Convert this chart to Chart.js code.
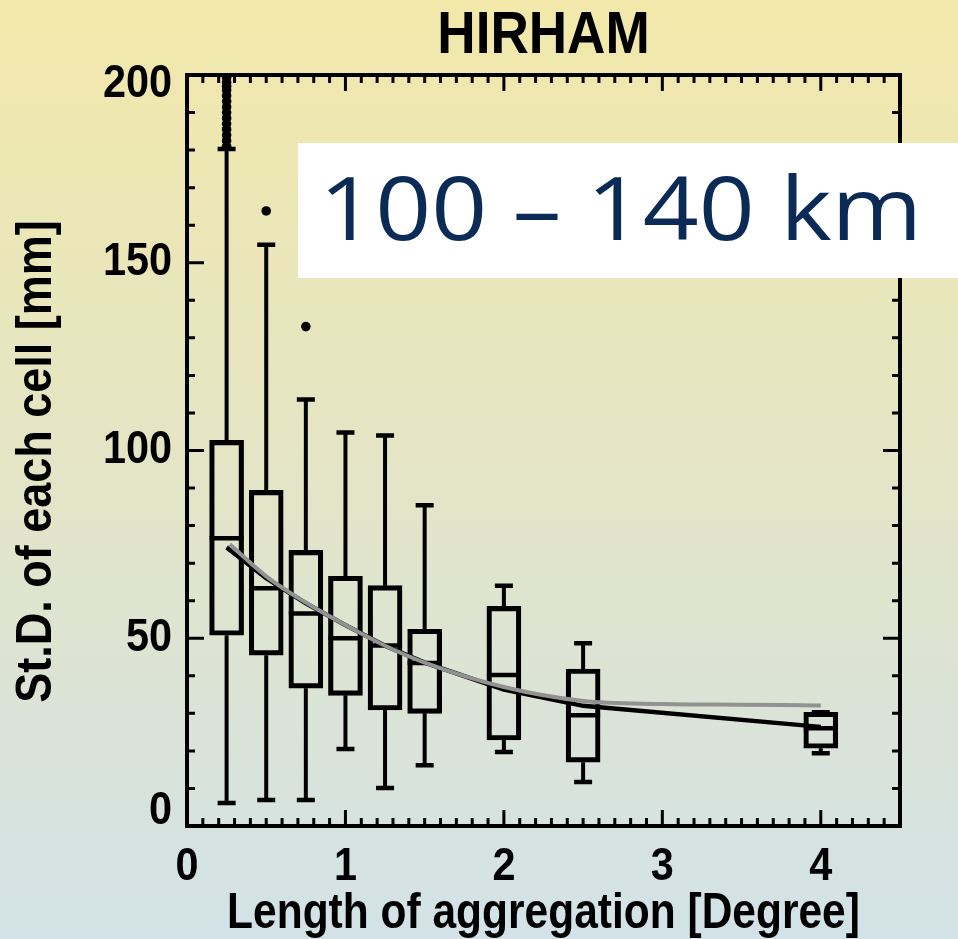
<!DOCTYPE html>
<html><head><meta charset="utf-8">
<script src="https://cdn.jsdelivr.net/npm/chart.js@4.4.0/dist/chart.umd.min.js"></script>
<style>html,body{margin:0;padding:0;background:#fff}canvas{display:block}</style>
</head><body>
<canvas id="c" width="958" height="939"></canvas>
<script>
// ---- data ----
const positions   = [0.25, 0.5, 0.75, 1.0, 1.25, 1.5, 2.0, 2.5, 4.0];
const whiskerLow  = [6.1, 6.9, 6.9, 20.5, 10.1, 16.2, 19.7, 11.7, 19.4];
const q1          = [50.8, 45.5, 36.7, 34.8, 30.9, 30.0, 22.9, 17.0, 20.7];
const medians     = [76.6, 63.3, 56.6, 50.0, 48.1, 43.4, 40.2, 29.5, 26.0];
const q3          = [102.7, 89.4, 73.4, 66.5, 64.0, 52.4, 58.5, 41.8, 30.3];
const whiskerHigh = [180.3, 154.8, 113.6, 104.8, 104.0, 85.4, 64.0, 48.7, 30.3];
const outlierX = [0.25,0.25,0.25,0.25,0.25,0.25,0.25,0.25,0.25,0.25,0.25,0.25,0.25,0.25,0.5,0.75];
const outlierY = [181,182.5,184,185.5,187,188.5,190,191.5,193,194.5,196,197,198,199.3,163.8,133];
const fitX      = [0.25, 0.5, 0.75, 1.0, 1.25, 1.5, 2.0, 2.5, 4.0];
const fitBlack  = [74.2, 66.0, 59.3, 53.5, 48.0, 43.5, 36.3, 32.0, 26.4];
const smoothX   = [0.27, 0.5, 0.75, 1.0, 1.25, 1.5, 2.0, 2.5, 3.0, 3.5, 4.0];
const smoothGray= [75.0, 66.5, 59.5, 53.5, 48.0, 43.5, 37.0, 33.3, 32.5, 32.3, 32.1];
const xTicks = [0, 1, 2, 3, 4];
const yTicks = [0, 50, 100, 150, 200];
const titleText = 'HIRHAM';
const xTitle = 'Length of aggregation [Degree]';
const yTitle = 'St.D. of each cell [mm]';
const boxLabel = '100 \u2013 140 km';

const FONT = "'Liberation Sans', Arial, sans-serif";
const SQUEEZE = 0.9;

// narrow (condensed) rendering of the chart's own text, like the original IDL font
const narrowTextPlugin = {
  id: 'narrowText',
  beforeInit(chart) {
    const ctx = chart.ctx;
    const orig = ctx.fillText;
    ctx.fillText = function(t, x, y, mw) {
      if (!this.__squeeze) {
        return mw === undefined ? orig.call(this, t, x, y) : orig.call(this, t, x, y, mw);
      }
      let dx = 0, dy = 0, sq = this.__squeeze;
      if (t === yTitle) dx = -11;
      if (t === xTitle) sq = 0.85;
      if (t === titleText && chart.chartArea) {
        const tr = this.getTransform();
        dx = (chart.chartArea.left + chart.chartArea.right) / 2 - tr.e - x;
      }
      if (this.textAlign === 'right' && t === '0') dy = -15;
      if (this.textAlign === 'right' && t === '200') dy = 9;
      this.save();
      this.translate(x + dx, y + dy);
      this.scale(sq, 1);
      orig.call(this, t, 0, 0);
      this.restore();
    };
    ctx.__squeeze = SQUEEZE;
  }
};

const bgPlugin = {
  id: 'bg',
  beforeDraw(chart) {
    const {ctx, width, height} = chart;
    const g = ctx.createLinearGradient(0, 0, 0, height);
    g.addColorStop(0, '#f2e8aa');
    g.addColorStop(0.5, '#e4e5c6');
    g.addColorStop(1, '#d2e2e7');
    ctx.save(); ctx.fillStyle = g; ctx.fillRect(0, 0, width, height); ctx.restore();
  }
};

const whiskerPlugin = {
  id: 'whiskers',
  beforeDatasetsDraw(chart) {
    const {ctx, scales: {x, y}} = chart;
    ctx.save();
    ctx.strokeStyle = '#000';
    ctx.lineCap = 'butt';
    positions.forEach((p, i) => {
      const px = x.getPixelForValue(p);
      const cap = 9, half = 17;
      ctx.lineWidth = 4;
      ctx.beginPath();
      ctx.moveTo(px, y.getPixelForValue(q3[i])); ctx.lineTo(px, y.getPixelForValue(whiskerHigh[i]));
      ctx.moveTo(px, y.getPixelForValue(q1[i])); ctx.lineTo(px, y.getPixelForValue(whiskerLow[i]));
      ctx.stroke();
      ctx.lineWidth = 4.5;
      ctx.beginPath();
      ctx.moveTo(px - cap, y.getPixelForValue(whiskerHigh[i])); ctx.lineTo(px + cap, y.getPixelForValue(whiskerHigh[i]));
      ctx.moveTo(px - cap, y.getPixelForValue(whiskerLow[i])); ctx.lineTo(px + cap, y.getPixelForValue(whiskerLow[i]));
      ctx.moveTo(px - half, y.getPixelForValue(medians[i])); ctx.lineTo(px + half, y.getPixelForValue(medians[i]));
      ctx.stroke();
    });
    ctx.restore();
  }
};

const framePlugin = {
  id: 'frame',
  afterDatasetsDraw(chart) {
    const {ctx, chartArea: a, scales: {x, y}} = chart;
    ctx.save();
    ctx.strokeStyle = '#000';
    ctx.lineWidth = 3;
    for (let k = 0; k <= 45; k++) {
      const v = k / 10;
      const px = x.getPixelForValue(v);
      const len = (k % 10 === 0) ? 16 : 8;
      ctx.beginPath();
      ctx.moveTo(px, a.bottom); ctx.lineTo(px, a.bottom - len);
      ctx.moveTo(px, a.top); ctx.lineTo(px, a.top + len);
      ctx.stroke();
    }
    for (let v = 0; v <= 200; v += 10) {
      const py = y.getPixelForValue(v);
      const len = (v % 50 === 0) ? 17 : 8;
      ctx.beginPath();
      ctx.moveTo(a.left, py); ctx.lineTo(a.left + len, py);
      ctx.moveTo(a.right, py); ctx.lineTo(a.right - len, py);
      ctx.stroke();
    }
    ctx.lineWidth = 4;
    ctx.strokeRect(a.left, a.top, a.right - a.left, a.bottom - a.top);
    ctx.restore();
  }
};

const labelPlugin = {
  id: 'label',
  afterDraw(chart) {
    const {ctx} = chart;
    const saved = ctx.__squeeze;
    ctx.__squeeze = 0;
    ctx.save();
    ctx.fillStyle = '#ffffff';
    ctx.fillRect(298, 143, 660, 135);
    ctx.fillStyle = '#0b2a56';
    ctx.font = "88px 'Open Sans', 'Noto Sans', sans-serif";
    ctx.textBaseline = 'alphabetic';
    ctx.textAlign = 'left';
    const m = ctx.measureText(boxLabel);
    const ink = m.actualBoundingBoxLeft + m.actualBoundingBoxRight;
    const sx = 588 / ink;
    ctx.translate(327, 240);
    ctx.scale(sx, 1);
    ctx.fillText(boxLabel, m.actualBoundingBoxLeft, 0);
    ctx.restore();
    ctx.__squeeze = saved;
  }
};

const boxData = positions.map((p, i) => ({x: p, y: [q1[i], q3[i]]}));

new Chart(document.getElementById('c'), {
  type: 'bar',
  data: {
    datasets: [
      {
        type: 'line',
        label: 'fit',
        data: fitX.map((v, i) => ({x: v, y: fitBlack[i]})),
        borderColor: '#000', borderWidth: 4.5, pointRadius: 0, tension: 0, order: 2
      },
      {
        type: 'line',
        label: 'smooth',
        data: smoothX.map((v, i) => ({x: v, y: smoothGray[i]})),
        borderColor: '#929292', borderWidth: 4, pointRadius: 0,
        cubicInterpolationMode: 'monotone', order: 1
      },
      {
        type: 'bar',
        label: 'boxes',
        data: boxData,
        backgroundColor: 'rgba(0,0,0,0)',
        borderColor: '#000', borderWidth: 4.5, borderSkipped: false,
        barThickness: 34, order: 3
      },
      {
        type: 'scatter',
        label: 'outliers',
        data: outlierX.map((v, i) => ({x: v, y: outlierY[i]})),
        backgroundColor: '#000', borderWidth: 0, pointRadius: 4.8, order: 4
      }
    ]
  },
  options: {
    responsive: false,
    devicePixelRatio: 1,
    animation: false,
    layout: {padding: {left: 0, right: 58, top: 0, bottom: 0}},
    plugins: {
      legend: {display: false},
      tooltip: {enabled: false},
      title: {
        display: true, text: titleText, color: '#000',
        font: {family: FONT, size: 59, weight: 'bold', lineHeight: 1.2},
        padding: {top: 1, bottom: 3.2}
      }
    },
    scales: {
      x: {
        type: 'linear', min: 0, max: 4.5, offset: false,
        afterBuildTicks: s => { s.ticks = xTicks.map(v => ({value: v})); },
        afterFit: s => { s.height = 113; },
        grid: {display: false, drawTicks: false},
        border: {display: false},
        ticks: {color: '#000', font: {family: FONT, size: 46, weight: 'bold'}, padding: 14, maxRotation: 0, autoSkip: false},
        title: {display: true, text: xTitle, color: '#000',
          font: {family: FONT, size: 50, weight: 'bold', lineHeight: 1}, padding: {top: 0, bottom: 0}}
      },
      y: {
        type: 'linear', min: 0, max: 200,
        afterBuildTicks: s => { s.ticks = yTicks.map(v => ({value: v})); },
        afterFit: s => { s.width = 187; },
        grid: {display: false, drawTicks: false},
        border: {display: false},
        ticks: {color: '#000', font: {family: FONT, size: 46, weight: 'bold'}, padding: 15, autoSkip: false},
        title: {display: true, text: yTitle, color: '#000',
          font: {family: FONT, size: 50, weight: 'bold', lineHeight: 1}, padding: {top: 12, bottom: 0}}
      }
    }
  },
  plugins: [narrowTextPlugin, bgPlugin, whiskerPlugin, framePlugin, labelPlugin]
});
</script>
</body></html>
